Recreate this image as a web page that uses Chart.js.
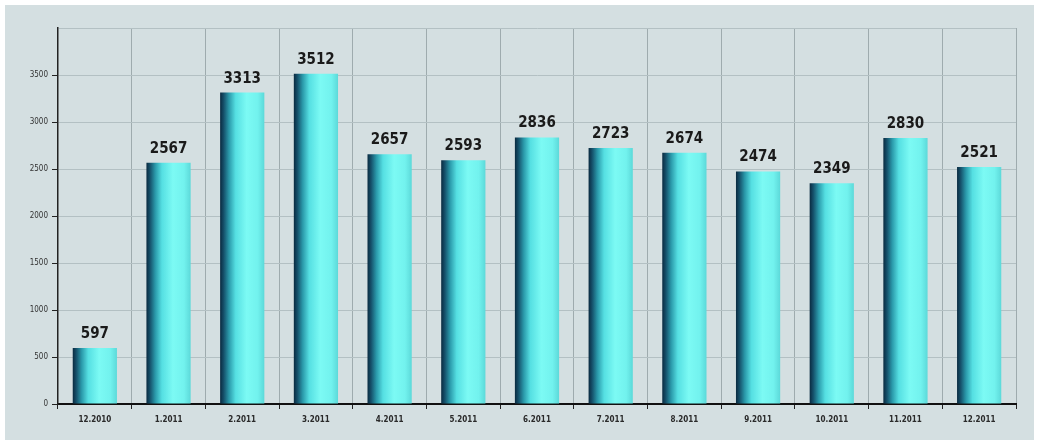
<!DOCTYPE html>
<html><head><meta charset="utf-8">
<script src="https://cdn.jsdelivr.net/npm/chart.js@4"></script>
<style>
html,body{margin:0;padding:0;background:#fff;}
#wrap{position:absolute;left:5px;top:5px;width:1029px;height:435px;background:#d4dfe1;}
canvas{display:block;}
</style></head><body>
<div id="wrap"><canvas id="c" width="1029" height="435"></canvas></div>
<script>
const categories = ['12.2010','1.2011','2.2011','3.2011','4.2011','5.2011','6.2011','7.2011','8.2011','9.2011','10.2011','11.2011','12.2011'];
const values = [597,2567,3313,3512,2657,2593,2836,2723,2674,2474,2349,2830,2521];
const yTicks = [0,500,1000,1500,2000,2500,3000,3500];

const BAR_FRAC = 0.6;
function barGradient(ctx){
  const chart = ctx.chart;
  const xs = chart.scales && chart.scales.x;
  if(!xs || !chart.chartArea) return '#5ee8e8';
  const cx = xs.getPixelForValue(ctx.dataIndex);
  const w = (xs.width / categories.length) * BAR_FRAC;
  const g = chart.ctx.createLinearGradient(cx - w/2, 0, cx + w/2, 0);
  g.addColorStop(0, '#0a2a40');
  g.addColorStop(0.08, '#15506a');
  g.addColorStop(0.2, '#2a99aa');
  g.addColorStop(0.35, '#55dfe2');
  g.addColorStop(0.6, '#7cfaf4');
  g.addColorStop(0.85, '#72f2ee');
  g.addColorStop(1, '#5cd9d9');
  return g;
}

const valueLabels = {
  id:'valueLabels',
  afterDatasetsDraw(chart){
    const c = chart.ctx;
    const meta = chart.getDatasetMeta(0);
    c.save();
    c.font = 'bold 15px "Liberation Sans Narrow","DejaVu Sans Condensed","DejaVu Sans",sans-serif';
    c.fillStyle = '#1a1a1a';
    c.textAlign = 'center';
    c.textBaseline = 'alphabetic';
    meta.data.forEach((el,i)=>{
      c.fillText(String(values[i]), el.x, el.y - 10);
    });
    c.restore();
  }
};

new Chart(document.getElementById('c'), {
  type:'bar',
  data:{labels:categories, datasets:[{data:values, backgroundColor:barGradient, borderWidth:0, categoryPercentage:1, barPercentage:BAR_FRAC}]},
  options:{
    responsive:false, animation:false,
    layout:{padding:{left:0,right:18,top:23,bottom:0}},
    plugins:{legend:{display:false}, tooltip:{enabled:false}},
    scales:{
      x:{
        grid:{color:'#9eabae', lineWidth:1, offset:true, tickLength:5, tickColor:'#222'},
        border:{color:'#111', width:2},
        ticks:{color:'#2a2a2a', font:{size:8, weight:'bold', family:'"DejaVu Sans Condensed","DejaVu Sans",sans-serif'}, padding:6, maxRotation:0},
        afterFit(s){ s.height = 36; }
      },
      y:{
        min:0, max:4000,
        afterBuildTicks(s){ s.ticks = yTicks.concat([4000]).map(v=>({value:v})); },
        grid:{color:'#b3c0c3', lineWidth:1, tickLength:6,
          tickColor:(c)=> (c.tick && c.tick.value===4000) ? 'rgba(0,0,0,0)' : '#222'},
        border:{color:'#222', width:1.5},
        ticks:{color:'#333', font:{size:8, family:'"DejaVu Sans Condensed","DejaVu Sans",sans-serif'}, padding:4,
          callback:(v)=> yTicks.includes(v) ? String(v) : ''},
        afterFit(s){ s.width = 53; }
      }
    }
  },
  plugins:[valueLabels]
});
</script>
</body></html>
